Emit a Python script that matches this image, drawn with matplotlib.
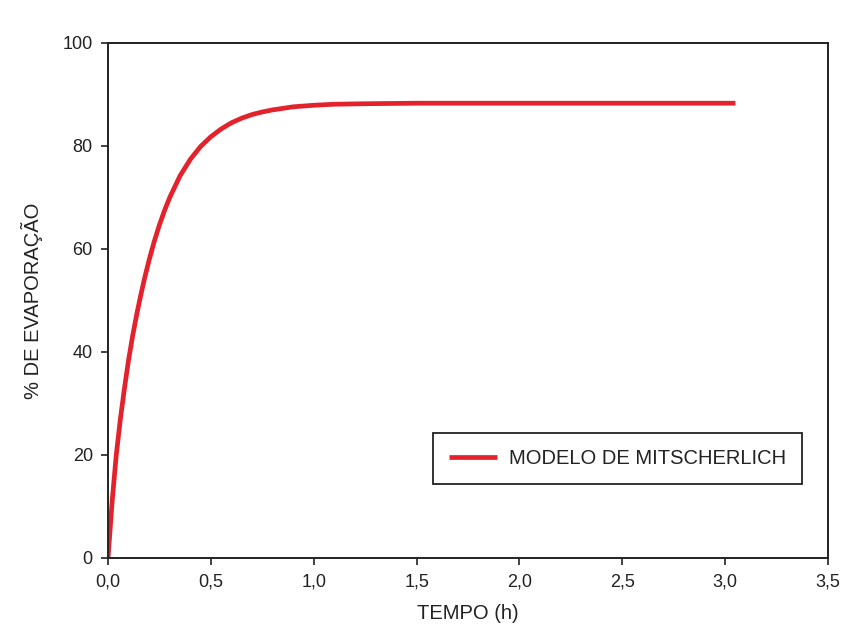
import matplotlib
matplotlib.use('Agg')
import matplotlib.pyplot as plt

plt.rcParams['font.family'] = ['Liberation Sans', 'DejaVu Sans']

# tempo (h) e % de evaporacao
tempo = [0.0, 0.02, 0.04, 0.06, 0.08, 0.10, 0.12, 0.14, 0.16, 0.18, 0.20,
         0.225, 0.25, 0.275, 0.30, 0.35, 0.40, 0.45, 0.50, 0.55, 0.60, 0.65,
         0.70, 0.75, 0.80, 0.90, 1.0, 1.1, 1.25, 1.5, 2.0, 2.5, 3.05]
evaporacao = [0.0, 11.0, 20.0, 27.0, 33.0, 38.5, 43.2, 47.4, 51.2, 54.7, 57.9,
              61.5, 64.7, 67.5, 70.0, 74.2, 77.4, 79.9, 81.8, 83.3, 84.5, 85.4,
              86.1, 86.6, 87.0, 87.6, 87.9, 88.1, 88.2, 88.3, 88.3, 88.3, 88.3]

xticks = [0.0, 0.5, 1.0, 1.5, 2.0, 2.5, 3.0, 3.5]
xtick_labels = ['0,0', '0,5', '1,0', '1,5', '2,0', '2,5', '3,0', '3,5']
yticks = [0, 20, 40, 60, 80, 100]

fig = plt.figure(figsize=(8.46, 6.41), dpi=100)
ax = fig.add_axes([0.1277, 0.1295, 0.851, 0.8035])

ax.plot(tempo, evaporacao, color='#e3222b', linewidth=3.4,
        solid_capstyle='butt', solid_joinstyle='round',
        label='MODELO DE MITSCHERLICH')

ax.set_xlim(0, 3.5)
ax.set_ylim(0, 100)
ax.set_xticks(xticks)
ax.set_xticklabels(xtick_labels)
ax.set_yticks(yticks)

for s in ax.spines.values():
    s.set_linewidth(1.4)
    s.set_color('#222222')

ax.tick_params(direction='out', length=5, width=1.2, labelsize=13,
               colors='#222222', pad=6)

ax.set_xlabel('TEMPO (h)', fontsize=14.5, color='#222222', labelpad=10)
ax.set_ylabel('% DE EVAPORAÇÃO', fontsize=14.5, color='#222222', labelpad=14)

leg = ax.legend(loc='upper left', bbox_to_anchor=(0.451, 0.243),
                borderaxespad=0, fancybox=False, framealpha=1,
                edgecolor='#222222', fontsize=14.5, handlelength=2.4,
                handletextpad=0.6, borderpad=0.8)
leg.get_frame().set_linewidth(1.3)
for t in leg.get_texts():
    t.set_color('#222222')

fig.savefig('out.png', dpi=100)
